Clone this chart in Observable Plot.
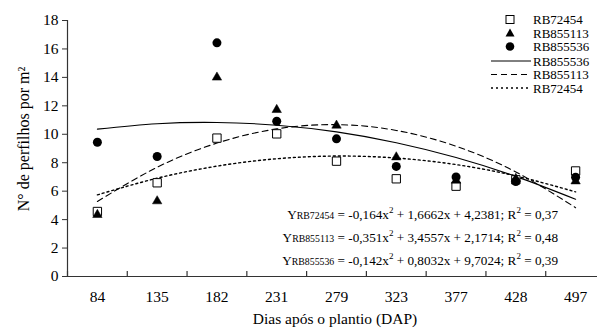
<!DOCTYPE html>
<html>
<head>
<meta charset="utf-8">
<script src="https://cdn.jsdelivr.net/npm/d3@7"></script>
<script src="https://cdn.jsdelivr.net/npm/@observablehq/plot@0.6"></script>
<style>
  html, body { margin: 0; padding: 0; background: #fff; }
</style>
</head>
<body>
<div id="chart"></div>
<script>
// Categories (days after planting)
const days = ["84", "135", "182", "231", "279", "323", "377", "428", "497"];
// Observed values (tillers per m²)
const rb72454 = [4.57, 6.59, 9.73, 10.03, 8.11, 6.87, 6.35, 6.80, 7.42];
const rb855113 = [4.34, 5.30, 14.0, 11.72, 10.62, 8.39, 6.75, 6.88, 6.70];
const rb855536 = [9.44, 8.44, 16.43, 10.92, 9.68, 7.74, 7.00, 6.68, 6.98];
// Fitted trend values at each category
const fit72454 = [5.74, 6.91, 7.76, 8.28, 8.47, 8.33, 7.87, 7.07, 5.95];
const fit855113 = [5.28, 7.68, 9.38, 10.38, 10.68, 10.27, 9.16, 7.35, 4.84];
const fit855536 = [10.36, 10.74, 10.83, 10.64, 10.17, 9.41, 8.37, 7.04, 5.43];
const yTicks = [0, 2, 4, 6, 8, 10, 12, 14, 16, 18];
const equations = [
  {sub: "RB72454", a: "-0,164", b: "1,6662", c: "4,2381", r2: "0,37"},
  {sub: "RB855113", a: "-0,351", b: "3,4557", c: "2,1714", r2: "0,48"},
  {sub: "RB855536", a: "-0,142", b: "0,8032", c: "9,7024", r2: "0,39"}
];

const pos = days.map((d, i) => i + 1);
const rows = (vals) => vals.map((v, i) => ({x: i + 1, y: v}));
const bounds = d3.range(0.5, 10, 1);

const font = "'Liberation Serif', 'Times New Roman', serif";

const chart = Plot.plot({
  width: 597,
  height: 329,
  marginLeft: 67,
  marginRight: -8,
  marginTop: 20,
  marginBottom: 53,
  style: {fontFamily: font, background: "#fff"},
  x: {type: "linear", domain: [0.5, 9.5], range: [67, 605]},
  y: {domain: [0, 18], range: [276, 20]},
  marks: [
    Plot.axisY({ticks: yTicks, tickSize: 5, tickPadding: 4, fontSize: 15.5, label: null, stroke: "#333", color: "#000"}),
    Plot.axisX({ticks: pos, tickFormat: (d) => days[d - 1], tickSize: 0, tickPadding: 14, fontSize: 15.5, label: null, color: "#000"}),
    Plot.ruleX(bounds, {y1: 0, y2: 0.35, stroke: "#333", strokeWidth: 1.2}),
    Plot.ruleY([0], {x1: 0.5, x2: 9.5, stroke: "#333", strokeWidth: 1.2}),
    Plot.ruleX([0.5], {y1: 0, y2: 18, stroke: "#333", strokeWidth: 1.2}),
    Plot.line(rows(fit855536), {x: "x", y: "y", curve: "natural", stroke: "#000", strokeWidth: 1.1}),
    Plot.line(rows(fit855113), {x: "x", y: "y", curve: "natural", stroke: "#000", strokeWidth: 1.1, strokeDasharray: "6,4"}),
    Plot.line(rows(fit72454), {x: "x", y: "y", curve: "natural", stroke: "#000", strokeWidth: 1.4, strokeDasharray: "2,3"}),
    Plot.dot(rows(rb72454), {x: "x", y: "y", symbol: "square", r: 4.7, fill: "#fff", stroke: "#000", strokeWidth: 1}),
    Plot.dot(rows(rb855113), {x: "x", y: "y", symbol: "triangle", r: 3.5, fill: "#000", stroke: "#000", strokeWidth: 0.5}),
    Plot.dot(rows(rb855536), {x: "x", y: "y", symbol: "circle", r: 4.5, fill: "#000", stroke: "none"})
  ]
});

document.getElementById("chart").appendChild(chart);

// Overlay: axis titles, legend, equations
const svg = d3.select(chart);
const g = svg.append("g").attr("fill", "#000").attr("text-anchor", "start");

g.append("text")
  .attr("x", 335).attr("y", 324)
  .attr("text-anchor", "middle").attr("font-size", 15.5)
  .text("Dias após o plantio (DAP)");

g.append("text")
  .attr("transform", "translate(29,139) rotate(-90)")
  .attr("text-anchor", "middle").attr("font-size", 16)
  .text("N° de perfilhos por m²");

// Legend
const legendItems = [
  {label: "RB72454", kind: "square"},
  {label: "RB855113", kind: "triangle"},
  {label: "RB855536", kind: "circle"},
  {label: "RB855536", kind: "solid"},
  {label: "RB855113", kind: "dashed"},
  {label: "RB72454", kind: "dotted"}
];
const ly = [19.5, 33, 46.5, 61, 74.5, 88];
legendItems.forEach((it, i) => {
  const y = ly[i];
  if (it.kind === "square") {
    g.append("rect").attr("x", 506).attr("y", y - 4).attr("width", 8).attr("height", 8)
      .attr("fill", "#fff").attr("stroke", "#000");
  } else if (it.kind === "triangle") {
    g.append("path").attr("d", `M510,${y - 4.5}L514.5,${y + 3.5}L505.5,${y + 3.5}Z`).attr("fill", "#000");
  } else if (it.kind === "circle") {
    g.append("circle").attr("cx", 510).attr("cy", y).attr("r", 4.3).attr("fill", "#000");
  } else {
    const l = g.append("line").attr("x1", 491).attr("x2", 531).attr("y1", y).attr("y2", y)
      .attr("stroke", "#000").attr("stroke-width", it.kind === "dotted" ? 1.3 : 1);
    if (it.kind === "dashed") l.attr("stroke-dasharray", "6,4");
    if (it.kind === "dotted") l.attr("stroke-dasharray", "2,3");
  }
  g.append("text").attr("x", 533).attr("y", y).attr("dy", "0.35em")
    .attr("text-anchor", "start")
    .attr("font-size", 13).text(it.label);
});

// Equations
const eqY = [219, 242, 265];
equations.forEach((e, i) => {
  const t = g.append("text").attr("x", 558).attr("y", eqY[i]).attr("font-size", 13.2)
    .attr("text-anchor", "end");
  t.append("tspan").text("Y");
  t.append("tspan").attr("font-size", 9.8).text(e.sub);
  t.append("tspan").text(` = ${e.a}x`);
  t.append("tspan").attr("font-size", 9).attr("dy", -6).text("2");
  t.append("tspan").attr("dy", 6).text(` + ${e.b}x + ${e.c}; R`);
  t.append("tspan").attr("font-size", 9).attr("dy", -6).text("2");
  t.append("tspan").attr("dy", 6).text(` = ${e.r2}`);
});

// Force the serif face on every text element
chart.style.setProperty("font-family", font, "important");
chart.querySelectorAll("text, tspan, g").forEach((el) => {
  el.style.setProperty("font-family", font, "important");
});
</script>
</body>
</html>
